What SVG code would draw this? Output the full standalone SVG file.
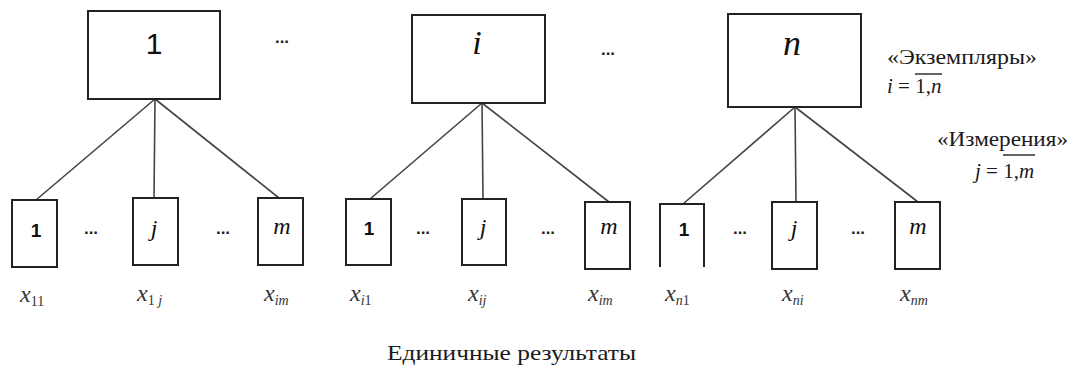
<svg xmlns="http://www.w3.org/2000/svg" width="1073" height="367" viewBox="0 0 1073 367">
  <style>
    .box { fill: #fff; stroke: #222; stroke-width: 2; }
    .edge { stroke: #444; stroke-width: 1.6; fill: none; }
    .num { font-family: "Liberation Sans", "DejaVu Sans", sans-serif; fill: #111; text-anchor: middle; }
    .var { font-family: "Liberation Serif", "DejaVu Serif", serif; font-style: italic; fill: #111; text-anchor: middle; }
    .dots { font-family: "Liberation Sans", "DejaVu Sans", sans-serif; font-size: 17px; font-weight: bold; fill: #222; text-anchor: middle; }
    .note { font-family: "Liberation Serif", "DejaVu Serif", serif; font-size: 21px; fill: #1a1a1a; }
    .res { font-family: "Liberation Serif", "DejaVu Serif", serif; font-style: italic; font-size: 24px; fill: #333; }
    .sub { font-size: 14px; }
    .up { font-style: normal; }
    .it { font-style: italic; }
    .ovl { stroke: #222; stroke-width: 1.4; }
  </style>
  <rect width="1073" height="367" fill="#fff"/>

  <!-- connectors from each instance to its measurements -->
  <g id="connectors">
    <line class="edge" x1="155" y1="99" x2="36" y2="200"/>
    <line class="edge" x1="155" y1="99" x2="154" y2="198"/>
    <line class="edge" x1="155" y1="99" x2="279" y2="198"/>
    <line class="edge" x1="482" y1="103" x2="370" y2="199"/>
    <line class="edge" x1="482" y1="103" x2="483" y2="199"/>
    <line class="edge" x1="482" y1="103" x2="609" y2="202"/>
    <line class="edge" x1="795" y1="107" x2="683" y2="204"/>
    <line class="edge" x1="795" y1="107" x2="796" y2="202"/>
    <line class="edge" x1="795" y1="107" x2="918" y2="202"/>
  </g>

  <!-- instances -->
  <g id="inst-1">
    <rect class="box" x="88" y="11" width="132" height="88"/>
    <text class="num" x="154" y="54" font-size="30">1</text>
  </g>
  <g id="inst-i">
    <rect class="box" x="412" y="15" width="133" height="88"/>
    <text class="var" x="477" y="54" font-size="34">i</text>
  </g>
  <g id="inst-n">
    <rect class="box" x="728" y="14" width="133" height="93"/>
    <text class="var" x="792" y="55" font-size="36">n</text>
  </g>
  <text class="dots" x="282" y="43">...</text>
  <text class="dots" x="608" y="55">...</text>

  <!-- measurements of instance 1 -->
  <g id="m-1-1">
    <rect class="box" x="12" y="200" width="45" height="67"/>
    <text class="num" x="36" y="237" font-size="19" font-weight="bold">1</text>
  </g>
  <g id="m-1-j">
    <rect class="box" x="133" y="198" width="45" height="67"/>
    <text class="var" x="154" y="236" font-size="24">j</text>
  </g>
  <g id="m-1-m">
    <rect class="box" x="258" y="198" width="45" height="67"/>
    <text class="var" x="282" y="234" font-size="24">m</text>
  </g>
  <text class="dots" x="91" y="234">...</text>
  <text class="dots" x="223" y="234">...</text>

  <!-- measurements of instance i -->
  <g id="m-i-1">
    <rect class="box" x="346" y="199" width="45" height="66"/>
    <text class="num" x="369" y="235" font-size="19" font-weight="bold">1</text>
  </g>
  <g id="m-i-j">
    <rect class="box" x="462" y="199" width="44" height="66"/>
    <text class="var" x="483" y="235" font-size="24">j</text>
  </g>
  <g id="m-i-m">
    <rect class="box" x="585" y="202" width="45" height="67"/>
    <text class="var" x="609" y="234" font-size="24">m</text>
  </g>
  <text class="dots" x="423" y="234">...</text>
  <text class="dots" x="548" y="234">...</text>

  <!-- measurements of instance n -->
  <g id="m-n-1">
    <path class="box" d="M660 267 V204 H704 V267"/>
    <text class="num" x="684" y="236" font-size="19" font-weight="bold">1</text>
  </g>
  <g id="m-n-j">
    <rect class="box" x="772" y="202" width="45" height="67"/>
    <text class="var" x="794" y="236" font-size="24">j</text>
  </g>
  <g id="m-n-m">
    <rect class="box" x="895" y="202" width="45" height="67"/>
    <text class="var" x="918" y="234" font-size="24">m</text>
  </g>
  <text class="dots" x="740" y="234">...</text>
  <text class="dots" x="858" y="234">...</text>

  <!-- single results -->
  <g id="results">
    <text class="res" x="20" y="302">x<tspan class="sub up" dy="4">11</tspan></text>
    <text class="res" x="137" y="301">x<tspan class="sub" dy="4"><tspan class="up">1</tspan> j</tspan></text>
    <text class="res" x="264" y="301">x<tspan class="sub" dy="4">im</tspan></text>
    <text class="res" x="350" y="301">x<tspan class="sub" dy="4">i<tspan class="up">1</tspan></tspan></text>
    <text class="res" x="468" y="301">x<tspan class="sub" dy="4">ij</tspan></text>
    <text class="res" x="588" y="301">x<tspan class="sub" dy="4">im</tspan></text>
    <text class="res" x="665" y="301">x<tspan class="sub" dy="4">n<tspan class="up">1</tspan></tspan></text>
    <text class="res" x="782" y="301">x<tspan class="sub" dy="4">ni</tspan></text>
    <text class="res" x="900" y="301">x<tspan class="sub" dy="4">nm</tspan></text>
  </g>

  <!-- legend -->
  <g id="legend">
    <text class="note" x="887" y="64" textLength="150" lengthAdjust="spacingAndGlyphs">«Экземпляры»</text>
    <text class="note" x="887" y="93"><tspan class="it">i</tspan> = 1,<tspan class="it">n</tspan></text>
    <line class="ovl" x1="915" y1="74" x2="942" y2="74"/>
    <text class="note" x="937" y="146" textLength="131" lengthAdjust="spacingAndGlyphs">«Измерения»</text>
    <text class="note" x="975" y="178"><tspan class="it">j</tspan> = 1,<tspan class="it">m</tspan></text>
    <line class="ovl" x1="1003" y1="155" x2="1035" y2="155"/>
  </g>

  <text id="caption" class="note" x="387" y="360" font-size="22" textLength="249" lengthAdjust="spacingAndGlyphs">Единичные результаты</text>
</svg>
